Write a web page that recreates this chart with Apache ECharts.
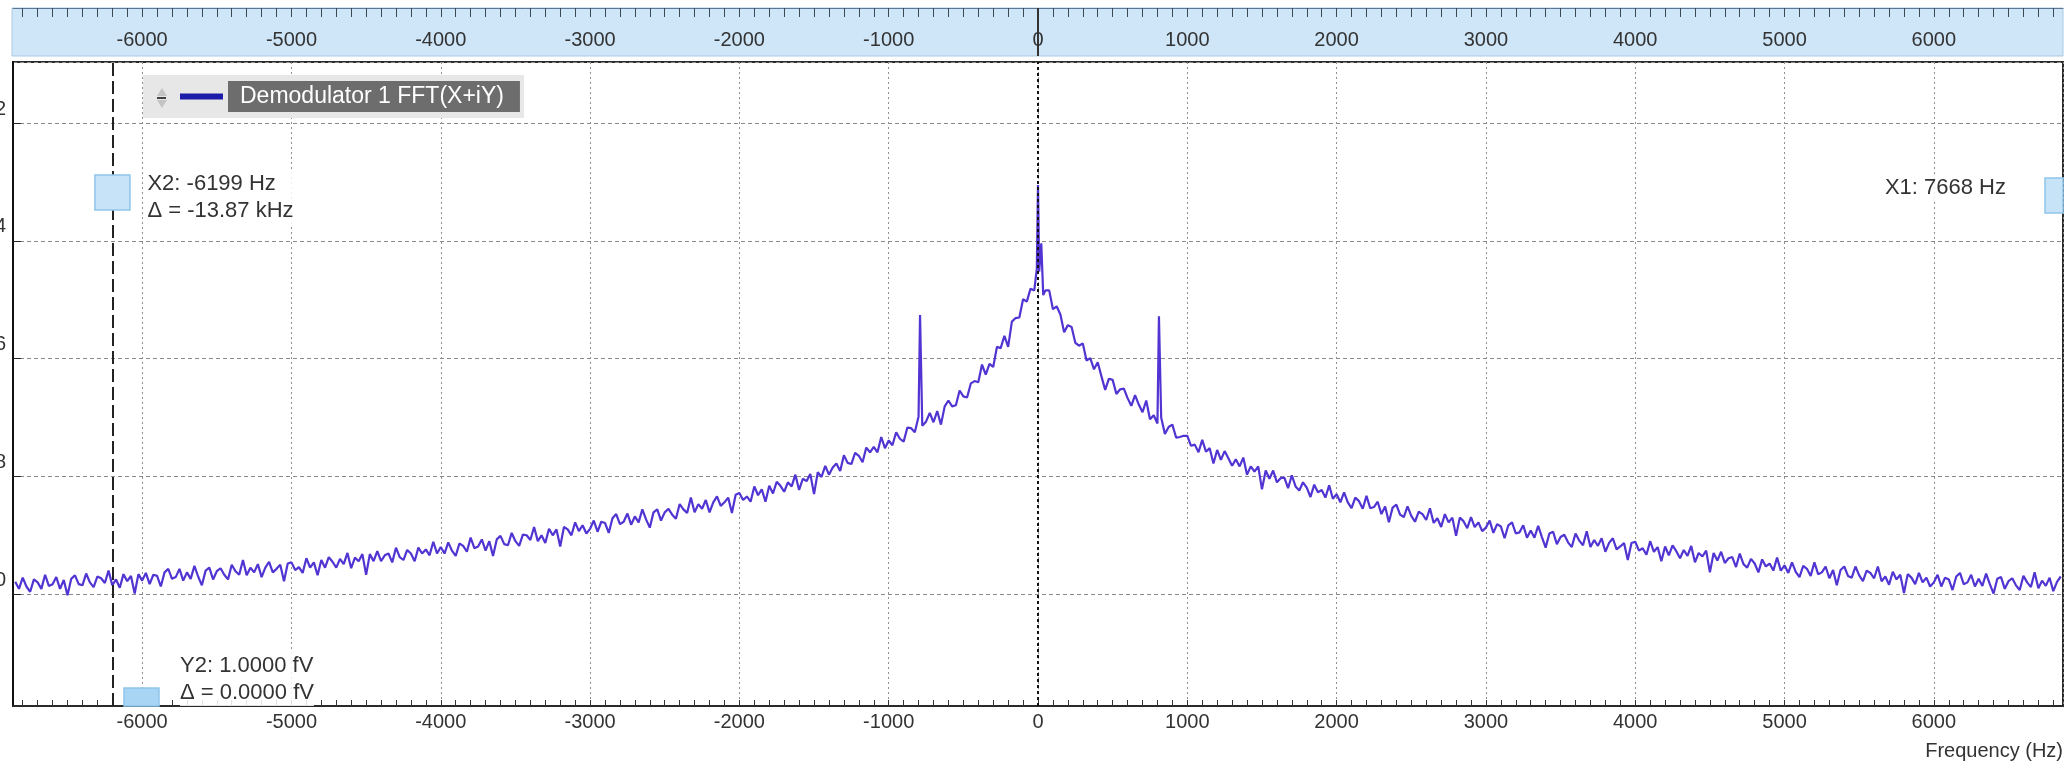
<!DOCTYPE html>
<html><head><meta charset="utf-8">
<script src="https://cdn.jsdelivr.net/npm/echarts@6/dist/echarts.min.js"></script>
<style>html,body{margin:0;padding:0;background:#fff}#c{width:2065px;height:766px}</style>
</head><body><div id="c"></div>
<script>
// ---------------- data ----------------
const seriesName = 'Demodulator 1 FFT(X+iY)';
const freqHz = [
-6850,-6825,-6800,-6775,-6750,-6725,-6700,-6675,-6650,-6625,-6600,-6575,-6550,-6525,-6500,-6475,-6450,-6425,-6400,-6375,-6350,-6325,-6300,-6275,-6250,-6225,-6200,-6175,-6150,-6125,-6100,-6075,-6050,-6025,
-6000,-5975,-5950,-5925,-5900,-5875,-5850,-5825,-5800,-5775,-5750,-5725,-5700,-5675,-5650,-5625,-5600,-5575,-5550,-5525,-5500,-5475,-5450,-5425,-5400,-5375,-5350,-5325,-5300,-5275,-5250,-5225,-5200,-5175,-5150,-5125,-5100,-5075,-5050,-5025,
-5000,-4975,-4950,-4925,-4900,-4875,-4850,-4825,-4800,-4775,-4750,-4725,-4700,-4675,-4650,-4625,-4600,-4575,-4550,-4525,-4500,-4475,-4450,-4425,-4400,-4375,-4350,-4325,-4300,-4275,-4250,-4225,-4200,-4175,-4150,-4125,-4100,-4075,-4050,-4025,
-4000,-3975,-3950,-3925,-3900,-3875,-3850,-3825,-3800,-3775,-3750,-3725,-3700,-3675,-3650,-3625,-3600,-3575,-3550,-3525,-3500,-3475,-3450,-3425,-3400,-3375,-3350,-3325,-3300,-3275,-3250,-3225,-3200,-3175,-3150,-3125,-3100,-3075,-3050,-3025,
-3000,-2975,-2950,-2925,-2900,-2875,-2850,-2825,-2800,-2775,-2750,-2725,-2700,-2675,-2650,-2625,-2600,-2575,-2550,-2525,-2500,-2475,-2450,-2425,-2400,-2375,-2350,-2325,-2300,-2275,-2250,-2225,-2200,-2175,-2150,-2125,-2100,-2075,-2050,-2025,
-2000,-1975,-1950,-1925,-1900,-1875,-1850,-1825,-1800,-1775,-1750,-1725,-1700,-1675,-1650,-1625,-1600,-1575,-1550,-1525,-1500,-1475,-1450,-1425,-1400,-1375,-1350,-1325,-1300,-1275,-1250,-1225,-1200,-1175,-1150,-1125,-1100,-1075,-1050,-1025,
-1000,-975,-950,-925,-900,-875,-850,-825,-800,-790,-775,-750,-725,-700,-675,-650,-625,-600,-575,-550,-525,-500,-475,-450,-425,-400,-375,-350,-325,-300,-275,-250,-225,-200,-175,-150,-125,-100,-75,-50,-25,
-8,0,8,22,35,
50,75,100,125,150,175,200,225,250,275,300,325,350,375,400,425,450,475,500,525,550,575,600,625,650,675,700,725,750,775,800,810,825,850,875,900,925,950,975,
1000,1025,1050,1075,1100,1125,1150,1175,1200,1225,1250,1275,1300,1325,1350,1375,1400,1425,1450,1475,1500,1525,1550,1575,1600,1625,1650,1675,1700,1725,1750,1775,1800,1825,1850,1875,1900,1925,1950,1975,
2000,2025,2050,2075,2100,2125,2150,2175,2200,2225,2250,2275,2300,2325,2350,2375,2400,2425,2450,2475,2500,2525,2550,2575,2600,2625,2650,2675,2700,2725,2750,2775,2800,2825,2850,2875,2900,2925,2950,2975,
3000,3025,3050,3075,3100,3125,3150,3175,3200,3225,3250,3275,3300,3325,3350,3375,3400,3425,3450,3475,3500,3525,3550,3575,3600,3625,3650,3675,3700,3725,3750,3775,3800,3825,3850,3875,3900,3925,3950,3975,
4000,4025,4050,4075,4100,4125,4150,4175,4200,4225,4250,4275,4300,4325,4350,4375,4400,4425,4450,4475,4500,4525,4550,4575,4600,4625,4650,4675,4700,4725,4750,4775,4800,4825,4850,4875,4900,4925,4950,4975,
5000,5025,5050,5075,5100,5125,5150,5175,5200,5225,5250,5275,5300,5325,5350,5375,5400,5425,5450,5475,5500,5525,5550,5575,5600,5625,5650,5675,5700,5725,5750,5775,5800,5825,5850,5875,5900,5925,5950,5975,
6000,6025,6050,6075,6100,6125,6150,6175,6200,6225,6250,6275,6300,6325,6350,6375,6400,6425,6450,6475,6500,6525,6550,6575,6600,6625,6650,6675,6700,6725,6750,6775,6800,6825,6850
];
const levelDb = [
-99.79,-99.91,-99.72,-99.87,-99.96,-99.75,-99.80,-99.91,-99.67,-99.86,-99.83,-99.71,-99.91,-99.76,-100.02,-99.74,-99.68,-99.83,-99.85,-99.65,-99.80,-99.88,-99.70,-99.73,-99.81,-99.60,-99.85,-99.75,-99.89,-99.66,-99.78,-99.69,-99.99,-99.66,
-99.77,-99.64,-99.83,-99.67,-99.69,-99.87,-99.63,-99.57,-99.74,-99.71,-99.57,-99.77,-99.63,-99.74,-99.52,-99.70,-99.85,-99.60,-99.55,-99.75,-99.61,-99.56,-99.67,-99.75,-99.50,-99.61,-99.67,-99.42,-99.68,-99.55,-99.63,-99.49,-99.71,-99.55,-99.45,-99.63,-99.57,-99.50,-99.78,-99.48,
-99.46,-99.59,-99.54,-99.64,-99.39,-99.55,-99.46,-99.68,-99.42,-99.55,-99.37,-99.45,-99.55,-99.40,-99.49,-99.30,-99.56,-99.38,-99.44,-99.32,-99.67,-99.32,-99.44,-99.27,-99.44,-99.34,-99.31,-99.46,-99.21,-99.37,-99.42,-99.25,-99.31,-99.44,-99.21,-99.31,-99.24,-99.34,-99.11,-99.31,
-99.20,-99.31,-99.12,-99.26,-99.35,-99.14,-99.18,-99.28,-99.04,-99.22,-99.19,-99.07,-99.26,-99.10,-99.35,-99.07,-99.01,-99.15,-99.17,-98.96,-99.10,-99.18,-98.99,-99.00,-99.08,-98.86,-99.10,-99.00,-99.13,-98.89,-99.00,-98.90,-99.19,-98.86,-98.90,-99.00,-98.78,-98.93,-98.83,-98.97,
-98.89,-98.75,-98.94,-98.77,-98.79,-98.96,-98.71,-98.64,-98.81,-98.77,-98.63,-98.82,-98.68,-98.78,-98.56,-98.73,-98.87,-98.61,-98.56,-98.75,-98.61,-98.55,-98.65,-98.72,-98.47,-98.56,-98.62,-98.36,-98.61,-98.47,-98.55,-98.40,-98.61,-98.44,-98.34,-98.50,-98.44,-98.36,-98.62,-98.31,
-98.28,-98.40,-98.34,-98.43,-98.17,-98.32,-98.22,-98.43,-98.16,-98.29,-98.09,-98.16,-98.26,-98.10,-98.17,-97.97,-98.23,-98.04,-98.08,-97.96,-98.30,-97.93,-98.01,-97.82,-97.97,-97.85,-97.78,-97.91,-97.64,-97.77,-97.79,-97.60,-97.65,-97.76,-97.51,-97.59,-97.50,-97.59,-97.33,-97.52,
-97.39,-97.47,-97.25,-97.36,-97.41,-97.17,-97.18,-97.25,-96.98,-95.26,-97.14,-97.07,-96.92,-97.08,-96.89,-97.12,-96.81,-96.71,-96.81,-96.79,-96.54,-96.64,-96.66,-96.42,-96.38,-96.40,-96.10,-96.27,-96.09,-96.14,-95.80,-95.82,-95.61,-95.80,-95.37,-95.31,-95.30,-94.99,-95.03,-94.81,-94.84,
-94.48,-93.05,-94.52,-94.04,-94.92,
-94.84,-94.84,-95.16,-95.11,-95.25,-95.55,-95.43,-95.46,-95.73,-95.78,-95.74,-96.03,-95.99,-96.18,-96.06,-96.30,-96.53,-96.34,-96.36,-96.60,-96.52,-96.51,-96.67,-96.80,-96.62,-96.78,-96.91,-96.71,-97.03,-96.96,-97.10,-95.28,-97.00,-97.28,-97.16,-97.12,-97.34,-97.33,-97.31,
-97.31,-97.48,-97.46,-97.59,-97.38,-97.58,-97.52,-97.78,-97.55,-97.72,-97.57,-97.69,-97.82,-97.71,-97.83,-97.68,-97.97,-97.83,-97.92,-97.83,-98.22,-97.90,-98.04,-97.90,-98.10,-98.03,-98.02,-98.20,-97.98,-98.17,-98.24,-98.10,-98.19,-98.35,-98.14,-98.27,-98.23,-98.36,-98.15,-98.38,
-98.30,-98.44,-98.27,-98.44,-98.54,-98.36,-98.42,-98.55,-98.33,-98.54,-98.52,-98.43,-98.64,-98.51,-98.78,-98.53,-98.48,-98.65,-98.69,-98.51,-98.67,-98.77,-98.60,-98.64,-98.74,-98.54,-98.79,-98.71,-98.86,-98.64,-98.78,-98.70,-99.01,-98.70,-98.76,-98.88,-98.69,-98.86,-98.78,-98.93,
-98.87,-98.75,-98.96,-98.81,-98.85,-99.05,-98.83,-98.78,-98.97,-98.95,-98.83,-99.04,-98.92,-99.04,-98.84,-99.03,-99.21,-98.97,-98.94,-99.15,-99.03,-98.99,-99.12,-99.20,-98.97,-99.09,-99.17,-98.93,-99.20,-99.08,-99.18,-99.05,-99.28,-99.13,-99.05,-99.24,-99.19,-99.13,-99.42,-99.13,
-99.11,-99.26,-99.22,-99.33,-99.10,-99.28,-99.20,-99.44,-99.19,-99.34,-99.17,-99.27,-99.39,-99.25,-99.35,-99.18,-99.46,-99.30,-99.36,-99.26,-99.63,-99.30,-99.43,-99.28,-99.47,-99.39,-99.37,-99.54,-99.31,-99.49,-99.55,-99.40,-99.48,-99.63,-99.41,-99.53,-99.48,-99.60,-99.38,-99.60,
-99.51,-99.64,-99.46,-99.62,-99.71,-99.52,-99.57,-99.69,-99.46,-99.66,-99.63,-99.53,-99.73,-99.59,-99.85,-99.59,-99.53,-99.69,-99.72,-99.53,-99.68,-99.78,-99.60,-99.64,-99.73,-99.53,-99.78,-99.70,-99.84,-99.62,-99.75,-99.67,-99.98,-99.66,-99.72,-99.83,-99.64,-99.80,-99.72,-99.87,
-99.80,-99.67,-99.87,-99.72,-99.75,-99.93,-99.70,-99.64,-99.83,-99.80,-99.67,-99.87,-99.74,-99.86,-99.65,-99.83,-99.99,-99.74,-99.71,-99.91,-99.78,-99.73,-99.85,-99.93,-99.69,-99.80,-99.88,-99.63,-99.90,-99.77,-99.86,-99.72,-99.95,-99.79,-99.70
];
const xRangeHz = [-6865, 6865];
const yRangeDb = [-101.9, -90.96];
const cursorX1Hz = 7668;
const cursorX2Hz = -6199;
const cursorX2Text = ['X2: -6199 Hz', 'Δ = -13.87 kHz'];
const cursorX1Text = 'X1: 7668 Hz';
const cursorY2Text = ['Y2: 1.0000 fV', 'Δ = 0.0000 fV'];
const xAxisTitle = 'Frequency (Hz)';

// ---------------- chart ----------------
if (freqHz.length !== levelDb.length) console.error('length mismatch', freqHz.length, levelDb.length);
const FONT = '"Liberation Sans", Arial, sans-serif';
const spectrum = freqHz.map((f, i) => [f, levelDb[i]]);
const tickHz = [];
for (let f = -6800; f <= 6800; f += 100) tickHz.push(f);
const plain = v => String(v);

const chart = echarts.init(document.getElementById('c'), null, {renderer: 'canvas', width: 2065, height: 766});

const labelAxis = (pos, extra) => Object.assign({
  type: 'value', min: xRangeHz[0], max: xRangeHz[1], splitNumber: 14, position: pos,
  axisTick: {show: false},
  axisLabel: {fontSize: 20, color: '#333', fontFamily: FONT, formatter: plain, showMinLabel: false, showMaxLabel: false},
  splitLine: {show: false}
}, extra);
const tickAxis = (pos, extra) => Object.assign({
  type: 'value', min: xRangeHz[0], max: xRangeHz[1], position: pos,
  axisLine: {show: false}, axisLabel: {show: false}, splitLine: {show: false}
}, extra);

const option = {
  animation: false,
  textStyle: {fontFamily: FONT},
  grid: {left: 13, right: 2, top: 62, bottom: 60, containLabel: false, outerBoundsMode: 'none',
         show: true, borderColor: '#2a2a2a', borderWidth: 2, backgroundColor: '#fff'},
  legend: {
    show: true, left: 143, top: 75, padding: [6, 4, 6, 37],
    backgroundColor: '#e7e7e7', selectedMode: false,
    icon: 'rect', itemWidth: 43, itemHeight: 6,
    itemStyle: {color: '#1c1ca8'}, lineStyle: {color: '#1c1ca8'},
    textStyle: {color: '#fff', fontSize: 23, fontFamily: FONT, backgroundColor: '#6d6d6d', padding: [4, 16, 4, 12]},
    data: [seriesName]
  },
  xAxis: [
    labelAxis('bottom', {
      axisLine: {show: true, onZero: false, lineStyle: {color: '#2a2a2a', width: 2}},
      axisLabel: {fontSize: 20, color: '#333', fontFamily: FONT, margin: 6, formatter: plain, showMinLabel: false, showMaxLabel: false},
      splitLine: {show: true, lineStyle: {type: [2, 3], color: '#8f8f8f', width: 1}}
    }),
    tickAxis('bottom', {axisTick: {show: true, inside: true, length: 6, customValues: tickHz, lineStyle: {color: '#333', width: 1}}}),
    labelAxis('top', {
      offset: 54, z: 3,
      axisLine: {show: true, onZero: false, lineStyle: {color: '#5b7690', width: 1}},
      axisLabel: {inside: true, margin: 22, fontSize: 20, color: '#333', fontFamily: FONT, formatter: plain, showMinLabel: false, showMaxLabel: false}
    }),
    tickAxis('top', {offset: 54, z: 3, axisTick: {show: true, inside: true, length: 9, customValues: tickHz, lineStyle: {color: '#3c4a58', width: 1}}})
  ],
  yAxis: [{
    type: 'value', min: yRangeDb[0], max: yRangeDb[1], splitNumber: 5,
    axisLine: {show: true, onZero: false, lineStyle: {color: '#111', width: 2}},
    axisTick: {show: true, inside: true, length: 8, lineStyle: {color: '#222', width: 1}},
    axisLabel: {margin: 7, fontSize: 20, color: '#333', fontFamily: FONT, formatter: plain, verticalAlign: 'bottom', padding: [0, 0, 4, 0], showMinLabel: false, showMaxLabel: false},
    splitLine: {show: true, lineStyle: {type: [4, 3], color: '#8a8a8a', width: 1}}
  }],
  series: [{
    name: seriesName, type: 'line', data: spectrum, xAxisIndex: 0, yAxisIndex: 0,
    showSymbol: false, symbol: 'none', sampling: null, clip: true, z: 3,
    lineStyle: {color: '#5234d2', width: 2.2}, itemStyle: {color: '#5234d2'},
    markLine: {
      silent: true, symbol: ['none', 'none'], animation: false, label: {show: false},
      data: [
        {xAxis: 0, lineStyle: {type: [3, 3], color: '#111', width: 2}},
        {xAxis: cursorX2Hz, lineStyle: {type: [13, 5], color: '#222', width: 2}}
      ]
    }
  }]
};
chart.setOption(option);

const px = v => chart.convertToPixel({xAxisIndex: 0}, v);
const x0 = px(0);
const xc2 = px(cursorX2Hz);
const plotRight = 2063;
const xc1 = Math.min(px(cursorX1Hz), plotRight + 100);
const markerFill = '#c7e3f8', markerStroke = '#8ec5ea';
const txtStyle = (text, x, y, align, extra) => Object.assign({
  text, x, y, font: '22px ' + FONT, fill: '#333',
  align, textAlign: align, verticalAlign: 'top', textVerticalAlign: 'top',
  lineHeight: 27, backgroundColor: 'rgba(255,255,255,0.85)'
}, extra || {});

chart.setOption({
  graphic: [
    // top band
    {type: 'rect', z: 0, shape: {x: 12, y: 8, width: plotRight - 12, height: 48}, style: {fill: '#cfe6f8', stroke: '#a9c9e3', lineWidth: 1}},
    {type: 'line', z: 5, shape: {x1: x0, y1: 8, x2: x0, y2: 56}, style: {stroke: '#333', lineWidth: 2}},
    // legend sort icon
    {type: 'polygon', z: 20, shape: {points: [[157, 96], [162, 88], [167, 96]]}, style: {fill: '#c4c4c4'}},
    {type: 'polygon', z: 20, shape: {points: [[157, 100], [162, 108], [167, 100]]}, style: {fill: '#c4c4c4'}},
    {type: 'line', z: 21, shape: {x1: 157, y1: 98, x2: 166, y2: 98}, style: {stroke: '#444', lineWidth: 2}},
    // cursor markers
    {type: 'rect', z: 20, shape: {x: xc2 - 17.5, y: 175, width: 35, height: 35}, style: {fill: markerFill, stroke: markerStroke, lineWidth: 1.5}},
    {type: 'rect', z: 20, shape: {x: Math.min(xc1, plotRight) - 18, y: 178, width: 18, height: 35}, style: {fill: markerFill, stroke: markerStroke, lineWidth: 1.5}},
    {type: 'rect', z: 20, shape: {x: 124, y: 688, width: 35, height: 18}, style: {fill: '#a9d5f5', stroke: markerStroke, lineWidth: 1.5}},
    // cursor texts
    {type: 'text', z: 22, style: txtStyle(cursorX2Text.join('\n'), xc2 + 35, 170, 'left')},
    {type: 'text', z: 22, style: txtStyle(cursorX1Text, 2006, 174, 'right')},
    {type: 'text', z: 22, style: txtStyle(cursorY2Text.join('\n'), 180, 652, 'left')},
    // axis title
    {type: 'text', z: 22, style: {text: xAxisTitle, x: 2063, y: 751, font: '20px ' + FONT, fill: '#333', align: 'right', textAlign: 'right', verticalAlign: 'middle', textVerticalAlign: 'middle'}}
  ]
});
</script>
</body></html>
